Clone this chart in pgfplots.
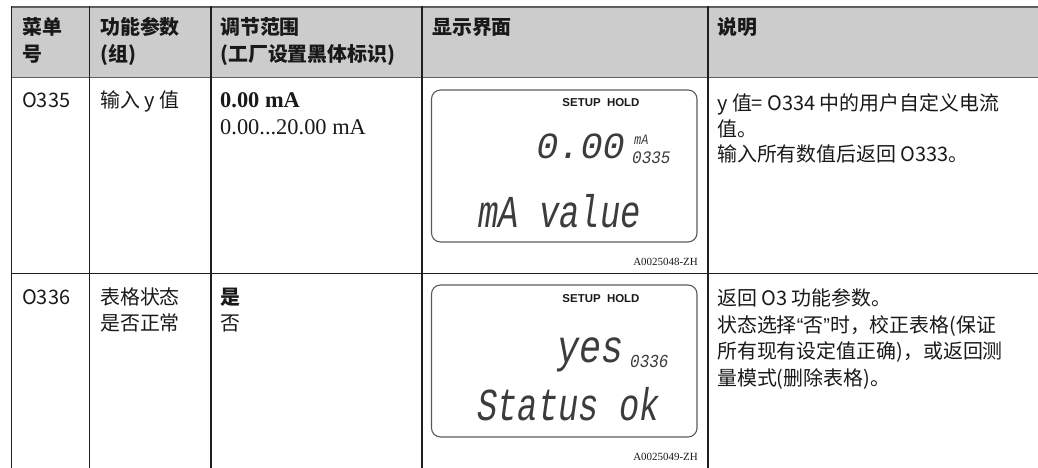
\documentclass[border=0pt]{standalone}
\usepackage{fontspec}
\usepackage{graphicx}
\usepackage{pgfplots}
\pgfplotsset{compat=1.18}
\setmainfont{Liberation Serif}
\newfontfamily\cjk{Noto Sans CJK SC}
\newfontfamily\lcd{Liberation Mono}
\newfontfamily\lsans{Liberation Sans}
\definecolor{hdr}{RGB}{204,204,204}
\definecolor{hline}{RGB}{95,95,95}
\definecolor{grid}{RGB}{30,30,30}
\definecolor{lcdc}{RGB}{60,60,60}
\definecolor{boxc}{RGB}{90,90,90}
\definecolor{txt}{RGB}{25,25,25}
\tikzset{
  hd/.style={anchor=base west, inner sep=0pt, text=txt, font=\cjk\bfseries\fontsize{20}{24}\selectfont},
  bd/.style={anchor=base west, inner sep=0pt, text=txt, font=\cjk\fontsize{20}{24}\selectfont},
  sr/.style={anchor=base west, inner sep=0pt, text=txt, font=\fontsize{22.5}{26}\selectfont},
  lcdt/.style={inner sep=0pt, text=lcdc, font=\lcd\itshape},
  lab/.style={anchor=base east, inner sep=0pt, text=txt, font=\fontsize{11}{12}\selectfont},
  sh/.style={anchor=center, inner sep=0pt, text=txt, font=\lsans\bfseries\fontsize{11.5}{12}\selectfont},
}
\begin{document}
\begin{tikzpicture}
\begin{axis}[
  scale only axis, width=1038bp, height=468bp,
  xmin=0, xmax=1038, ymin=0, ymax=468, y dir=reverse,
  hide axis, clip=false,
]
% header band
\fill[hdr] (axis cs:11.5,7) rectangle (axis cs:1038,77.5);
\draw[hline, line width=1.6bp] (axis cs:11.5,7) -- (axis cs:1038,7);
\draw[hline, line width=1.8bp] (axis cs:11.5,77.5) -- (axis cs:1038,77.5);
% row divider
\draw[grid, line width=1.1bp] (axis cs:11.5,273.5) -- (axis cs:1038,273.5);
% vertical lines
\foreach \xx in {11.5,89.5,211,422,708} {
  \edef\temp{\noexpand\draw[grid, line width=1.1bp] (axis cs:\xx,6.2) -- (axis cs:\xx,468);}
  \temp
}
% header text
\node[hd] at (axis cs:22,35) {菜单};
\node[hd] at (axis cs:22,61.5) {号};
\node[hd] at (axis cs:100,35) {功能参数};
\node[hd] at (axis cs:100,61.5) {(组)};
\node[hd] at (axis cs:220,35) {调节范围};
\node[hd] at (axis cs:220,61.5) {(工厂设置黑体标识)};
\node[hd] at (axis cs:432,35) {显示界面};
\node[hd] at (axis cs:717,35) {说明};
% row 1
\node[bd] at (axis cs:22,107.5) {O335};
\node[bd] at (axis cs:100,107.5) {输入 y 值};
\node[sr, font=\bfseries\fontsize{22.5}{26}\selectfont] at (axis cs:220,107.5) {0.00 mA};
\node[sr] at (axis cs:220,134.5) {0.00...20.00 mA};
\node[bd] at (axis cs:717,110) {y 值= O334 中的用户自定义电流};
\node[bd] at (axis cs:717,136) {值。};
\node[bd] at (axis cs:717,161) {输入所有数值后返回 O333。};
% LCD 1
\draw[boxc, line width=1.1bp, rounded corners=9bp] (axis cs:431.5,90) rectangle (axis cs:697,242);
\node[sh] at (axis cs:601,103) {SETUP\ \ HOLD};
\node[lcdt, anchor=base east, font=\lcd\itshape\fontsize{37}{40}\selectfont] at (axis cs:625,158) {0.00};
\node[lcdt, anchor=base west, text depth=0pt, text height=9bp, font=\lcd\itshape\fontsize{12}{13}\selectfont] at (axis cs:634,145) {\scalebox{1}[1.2]{mA}};
\node[lcdt, anchor=base west, text depth=0pt, text height=11bp, font=\lcd\itshape\fontsize{16}{18}\selectfont] at (axis cs:632,163) {\scalebox{1}[1.1]{0335}};
\node[lcdt, anchor=base west, font=\lcd\itshape\fontsize{34}{38}\selectfont] at (axis cs:478,227) {\scalebox{1}[1.35]{mA value}};
\node[lab] at (axis cs:698,265) {A0025048-ZH};
% row 2
\node[bd] at (axis cs:22,304.5) {O336};
\node[bd] at (axis cs:100,304.5) {表格状态};
\node[bd] at (axis cs:100,330.5) {是否正常};
\node[bd, font=\cjk\bfseries\fontsize{20}{24}\selectfont] at (axis cs:220,304.5) {是};
\node[bd] at (axis cs:220,330.5) {否};
\node[bd] at (axis cs:717,305.5) {返回 O3 功能参数。};
\node[bd] at (axis cs:717,332) {状态选择{\lsans“}否{\lsans”}时，校正表格(保证};
\node[bd] at (axis cs:717,358.5) {所有现有设定值正确)，或返回测};
\node[bd] at (axis cs:717,385) {量模式(删除表格)。};
% LCD 2
\draw[boxc, line width=1.1bp, rounded corners=9bp] (axis cs:431.5,285) rectangle (axis cs:697,437);
\node[sh] at (axis cs:601,299) {SETUP\ \ HOLD};
\node[lcdt, anchor=base east, font=\lcd\itshape\fontsize{37}{40}\selectfont] at (axis cs:624,362) {\scalebox{1}[1.25]{yes}};
\node[lcdt, anchor=base west, font=\lcd\itshape\fontsize{16}{18}\selectfont] at (axis cs:630,367) {\scalebox{1}[1.15]{0336}};
\node[lcdt, anchor=base west, font=\lcd\itshape\fontsize{34}{38}\selectfont] at (axis cs:477,420) {\scalebox{1}[1.35]{Status ok}};
\node[lab] at (axis cs:698,460) {A0025049-ZH};
\end{axis}
\pgfresetboundingbox
\path (0,0) rectangle (1038bp,468bp);
\end{tikzpicture}
\end{document}
